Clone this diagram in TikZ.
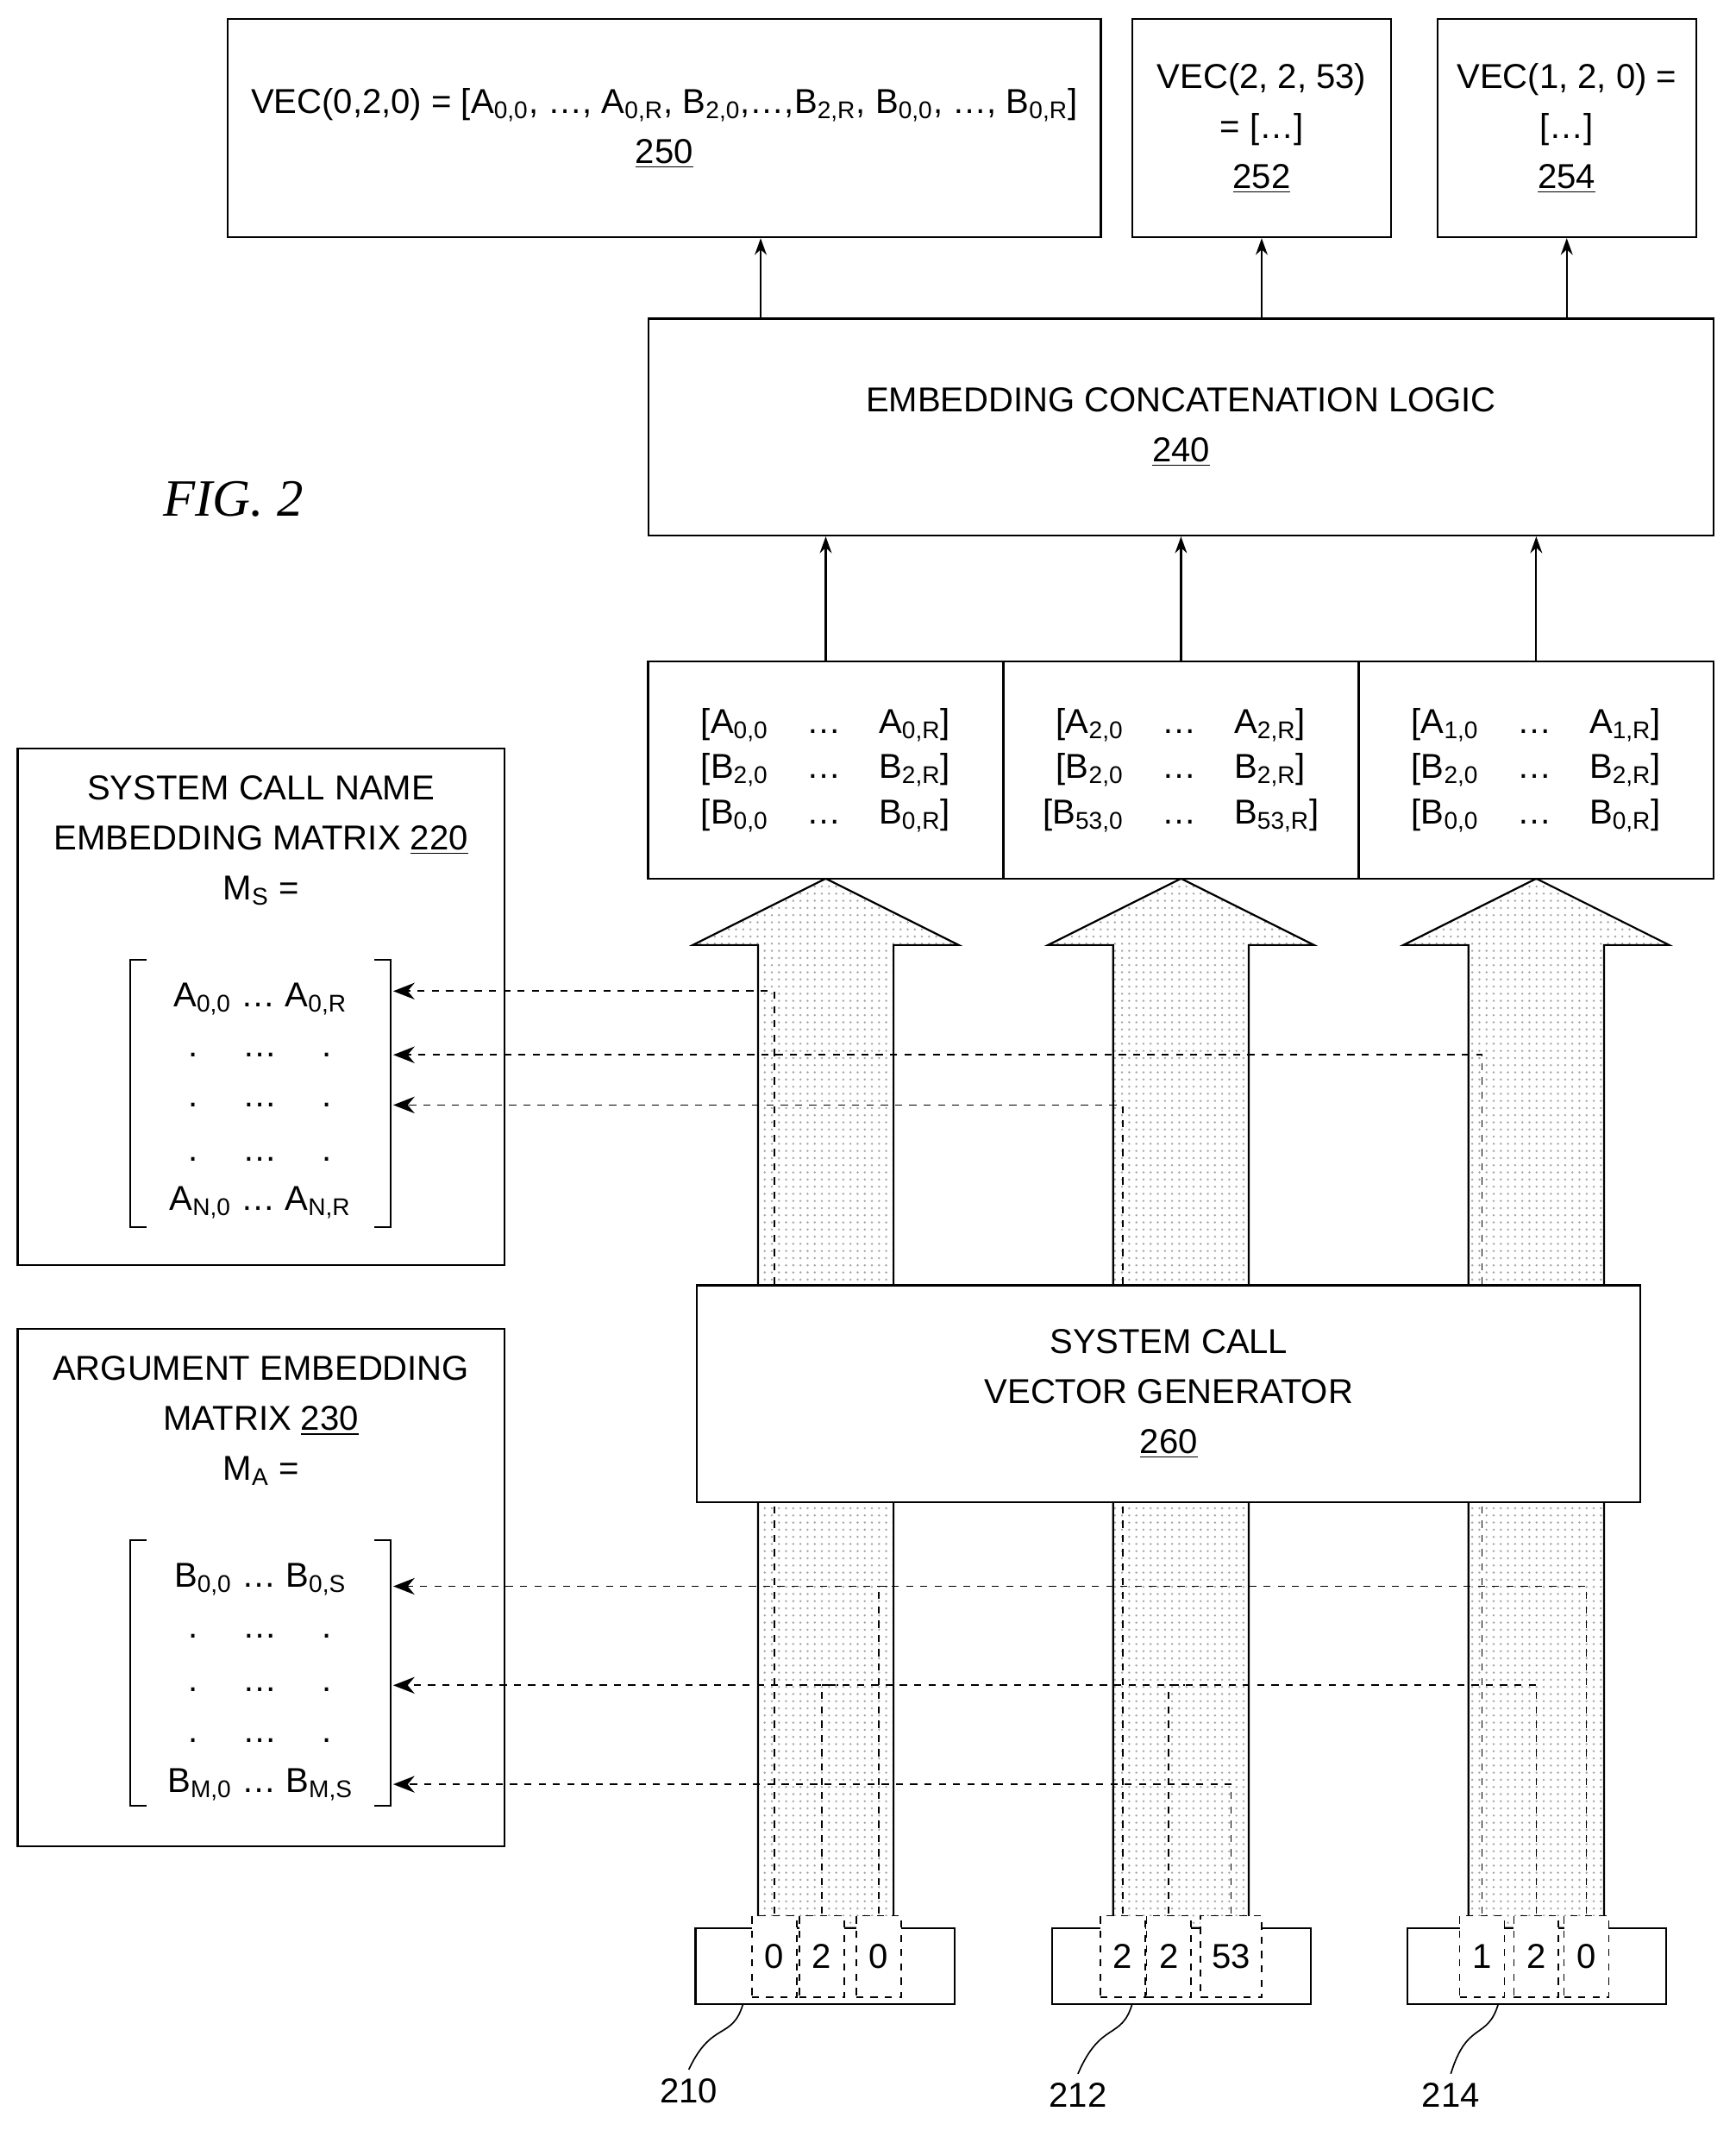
\documentclass[tikz,border=0pt]{standalone}
\usepackage{fontspec}
\setmainfont{Liberation Sans}
\newfontfamily\figfont{Liberation Serif}
\usetikzlibrary{arrows.meta,patterns}
\newcommand{\ix}[1]{\textsubscript{#1}}
\newcommand{\rowA}[3]{[#1\ix{#2}\hspace{1.1em}…\hspace{1.1em}#1\ix{#3}]}
\begin{document}
\begin{tikzpicture}[x=0.02cm,y=-0.02cm,line width=0.8pt,
    font=\fontsize{14.5}{21}\selectfont,
    box/.style={draw,fill=white,align=center,inner sep=0pt},
    dig/.style={draw,dashed,line width=0.6pt,minimum width=0.66cm,minimum height=1.2cm,inner sep=0pt},
    feed/.style={dashed,line width=0.6pt},
    up/.style={-{Stealth[length=7pt,width=5pt]}},
    back/.style={feed,-{Stealth[length=9pt,width=7pt]}}]
    \useasboundingbox (0,0) rectangle (1280,1571);
    % output vectors
    \node[box,minimum width=12.88cm,minimum height=3.22cm] (b250) at (490,94.5)
        {VEC(0,2,0) = [A\ix{0,0}, …, A\ix{0,R}, B\ix{2,0},…,B\ix{2,R}, B\ix{0,0}, …, B\ix{0,R}]\\\underline{250}};
    \node[box,minimum width=3.82cm,minimum height=3.22cm] (b252) at (930.5,94.5)
        {VEC(2, 2, 53)\\= […]\\\underline{252}};
    \node[box,minimum width=3.82cm,minimum height=3.22cm] (b254) at (1155.5,94.5)
        {VEC(1, 2, 0) =\\{}[…]\\\underline{254}};
    \node[box,minimum width=15.72cm,minimum height=3.2cm] (b240) at (871,315)
        {EMBEDDING CONCATENATION LOGIC\\\underline{240}};
    \node[font=\figfont\itshape\fontsize{22}{26}\selectfont] (fig) at (172,368) {FIG. 2};
    \draw[up] (b240.north -| 561,0) -- (b250.south -| 561,0);
    \draw[up] (b240.north -| b252) -- (b252.south);
    \draw[up] (b240.north -| b254) -- (b254.south);
    % big arrows
    \foreach \c in {609,871,1133}
        \draw[pattern=dots,pattern color=gray!70] (\c-50,1422) -- (\c-50,697) -- (\c-98,697)
            -- (\c,648) -- (\c+98,697) -- (\c+50,697) -- (\c+50,1422) -- cycle;
    % embedding rows
    \node[box,minimum width=5.24cm,minimum height=3.2cm] (t1) at (609,568)
        {\rowA{A}{0,0}{0,R}\\[-2pt]\rowA{B}{2,0}{2,R}\\[-2pt]\rowA{B}{0,0}{0,R}};
    \node[box,minimum width=5.24cm,minimum height=3.2cm] (t2) at (871,568)
        {\rowA{A}{2,0}{2,R}\\[-2pt]\rowA{B}{2,0}{2,R}\\[-2pt]\rowA{B}{53,0}{53,R}};
    \node[box,minimum width=5.24cm,minimum height=3.2cm] (t3) at (1133,568)
        {\rowA{A}{1,0}{1,R}\\[-2pt]\rowA{B}{2,0}{2,R}\\[-2pt]\rowA{B}{0,0}{0,R}};
    \draw[up] (t1.north) -- (b240.south -| t1);
    \draw[up] (t2.north) -- (b240.south -| t2);
    \draw[up] (t3.north) -- (b240.south -| t3);
    % matrices
    \node[box,minimum width=7.18cm,minimum height=7.62cm] (m220) at (192.5,742.5) {};
    \node[align=center] (m220t) at (192.5,620) {SYSTEM CALL NAME\\EMBEDDING MATRIX \underline{220}\\M\ix{S} =};
    \node[box,minimum width=7.18cm,minimum height=7.64cm] (m230) at (192.5,1171) {};
    \node[align=center] (m230t) at (192.5,1048) {ARGUMENT EMBEDDING\\MATRIX \underline{230}\\M\ix{A} =};
    \draw[line width=0.6pt] (108,708) -- (96,708) -- (96,905) -- (108,905);
    \draw[line width=0.6pt] (276,708) -- (288,708) -- (288,905) -- (276,905);
    \draw[line width=0.6pt] (108,1136) -- (96,1136) -- (96,1332) -- (108,1332);
    \draw[line width=0.6pt] (276,1136) -- (288,1136) -- (288,1332) -- (276,1332);
    \node (a0) at (192,737) {A\ix{0,0} … A\ix{0,R}};
    \foreach \y in {778,815,855} \node at (192,\y) {.\hspace{1.3em}…\hspace{1.3em}.};
    \node (aN) at (192,887) {A\ix{N,0} … A\ix{N,R}};
    \node (b0) at (192,1165) {B\ix{0,0} … B\ix{0,S}};
    \foreach \y in {1207,1246,1284} \node at (192,\y) {.\hspace{1.3em}…\hspace{1.3em}.};
    \node (bM) at (192,1316) {B\ix{M,0} … B\ix{M,S}};
    \coordinate (s0) at (290,731);
    \coordinate (s1) at (290,778);
    \coordinate (s2) at (290,815);
    \coordinate (r0) at (290,1170);
    \coordinate (r1) at (290,1243);
    \coordinate (r2) at (290,1316);
    % digit positions
    \coordinate (d10) at (571,1443);
    \coordinate (d11) at (606,1443);
    \coordinate (d12) at (648,1443);
    \coordinate (d20) at (828,1443);
    \coordinate (d21) at (862,1443);
    \coordinate (d22) at (908,1443);
    \coordinate (d30) at (1093,1443);
    \coordinate (d31) at (1133,1443);
    \coordinate (d32) at (1170,1443);
    % lookups
    \draw[back] (d10) -- (d10 |- s0) -- (s0);
    \draw[back] (d30) -- (d30 |- s1) -- (s1);
    \draw[back] (d20) -- (d20 |- s2) -- (s2);
    \draw[back] (d32) -- (d32 |- r0) -- (r0);
    \draw[back] (d31) -- (d31 |- r1) -- (r1);
    \draw[back] (d22) -- (d22 |- r2) -- (r2);
    \draw[feed] (d11) -- (d11 |- r1) -- ++(12,0);
    \draw[feed] (d12) -- (d12 |- r0) -- ++(12,0);
    \draw[feed] (d21) -- (d21 |- r1) -- ++(12,0);
    % generator and inputs
    \node[box,minimum width=13.92cm,minimum height=3.2cm] (gen) at (862,1028)
        {SYSTEM CALL\\VECTOR GENERATOR\\\underline{260}};
    \foreach \n/\c in {210/608.5,212/871.5,214/1133.5}
        \node[box,minimum width=3.82cm,minimum height=1.12cm] (in\n) at (\c,1450) {};
    \node[dig,fill=white] at (d10) {0}; \node[dig,fill=white] at (d11) {2}; \node[dig,fill=white] at (d12) {0};
    \node[dig,fill=white] at (d20) {2}; \node[dig,fill=white] at (d21) {2};
    \node[dig,fill=white,minimum width=0.9cm] at (d22) {53};
    \node[dig,fill=white] at (d30) {1}; \node[dig,fill=white] at (d31) {2}; \node[dig,fill=white] at (d32) {0};
    % reference numerals
    \node (l210) at (508,1542) {210};
    \node (l212) at (795,1545) {212};
    \node (l214) at (1070,1545) {214};
    \draw[line width=0.6pt] (548,1478) .. controls (540,1505) and (525,1490) .. (l210.north);
    \draw[line width=0.6pt] (835,1478) .. controls (827,1505) and (812,1490) .. (l212.north);
    \draw[line width=0.6pt] (1105,1478) .. controls (1097,1505) and (1082,1490) .. (l214.north);
\end{tikzpicture}
\end{document}
